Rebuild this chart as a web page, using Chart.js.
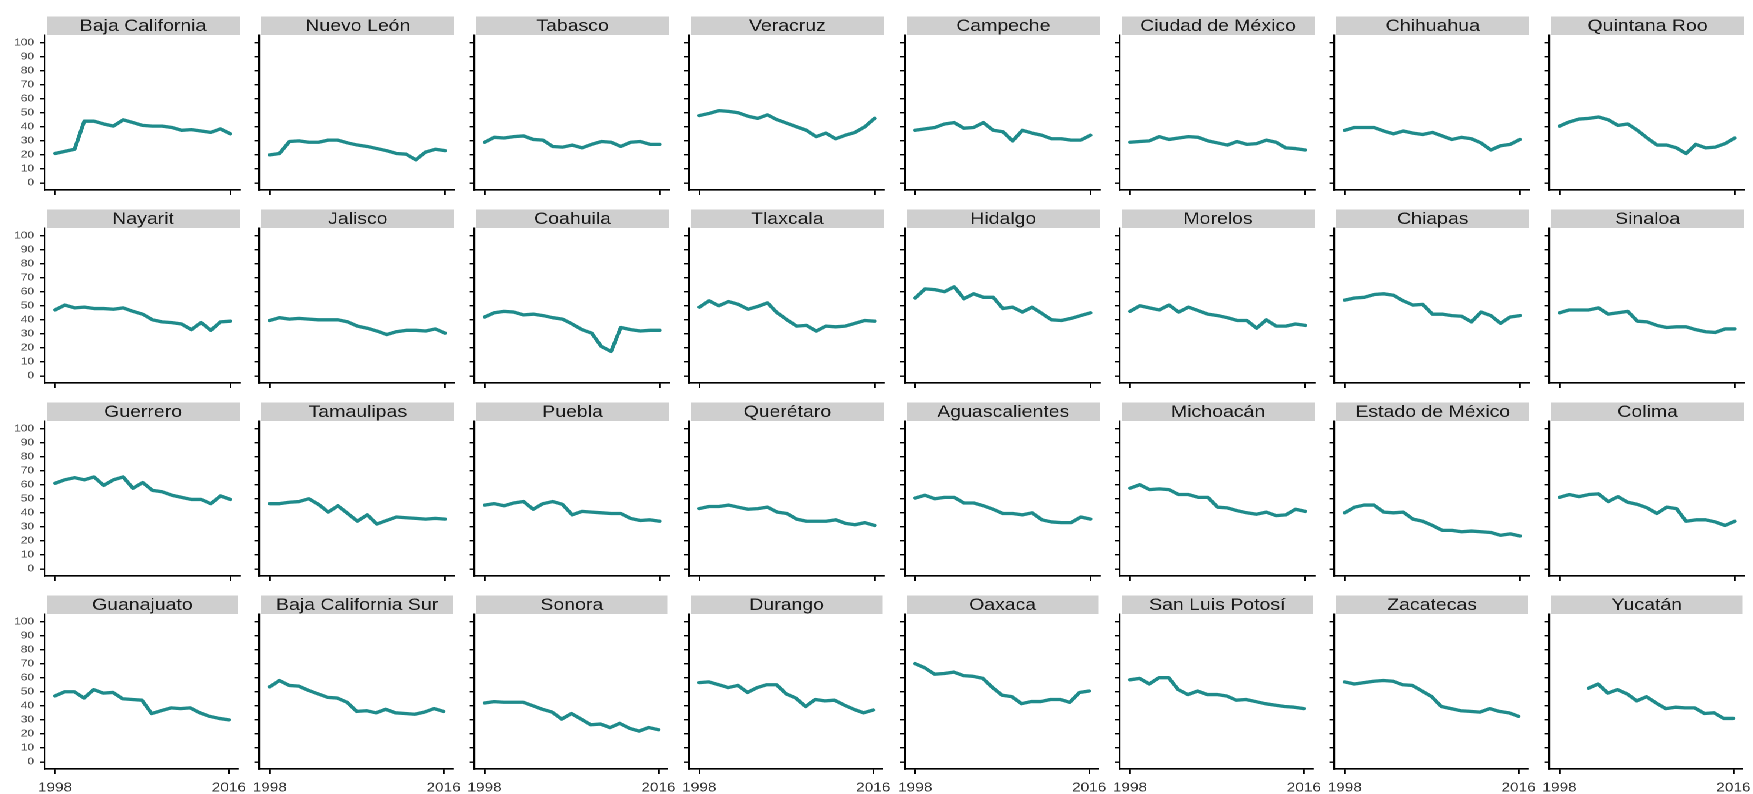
<!DOCTYPE html>
<html>
<head>
<meta charset="utf-8">
<script src="https://cdn.jsdelivr.net/npm/chart.js@4.4.1/dist/chart.umd.min.js"></script>
<style>
    html, body { margin: 0; padding: 0; background: #fff; overflow: hidden; }
    /* the reference is stretched sideways, so the whole grid is too */
    #grid { position: absolute; left: 0; top: 0; width: 1486px; height: 794px;
            transform: scaleX(1.18); transform-origin: 0 0; }
    #grid canvas { position: absolute; }
</style>
</head>
<body>
<div id="grid"></div>
<script>
const years = [1998, 1999, 2000, 2001, 2002, 2003, 2004, 2005, 2006, 2007,
               2008, 2009, 2010, 2011, 2012, 2013, 2014, 2015, 2016];
const xTicks = [1998, 2016];
const yTicks = [0, 10, 20, 30, 40, 50, 60, 70, 80, 90, 100];

const states = [
    'Baja California', 'Nuevo León', 'Tabasco', 'Veracruz', 'Campeche', 'Ciudad de México', 'Chihuahua', 'Quintana Roo',
    'Nayarit', 'Jalisco', 'Coahuila', 'Tlaxcala', 'Hidalgo', 'Morelos', 'Chiapas', 'Sinaloa',
    'Guerrero', 'Tamaulipas', 'Puebla', 'Querétaro', 'Aguascalientes', 'Michoacán', 'Estado de México', 'Colima',
    'Guanajuato', 'Baja California Sur', 'Sonora', 'Durango', 'Oaxaca', 'San Luis Potosí', 'Zacatecas', 'Yucatán'
];

// values, 1998..2016
const bajaCalifornia = [21, 22.5, 24, 44, 44, 42, 40.5, 45, 43, 41, 40.5, 40.5, 39.5, 37.5, 38, 37, 36, 38.5, 35];
const nuevoLeon = [20, 21, 29.5, 30, 29, 29, 30.5, 30.5, 28.5, 27, 26, 24.5, 23, 21, 20.5, 16.5, 22, 24, 23];
const tabasco = [29, 32.5, 32, 33, 33.5, 31, 30.5, 26, 25.5, 27, 25, 27.5, 29.5, 29, 26, 29, 29.5, 27.5, 27.5];
const veracruz = [48, 49.5, 51.5, 51, 50, 47.5, 46, 48.5, 45, 42.5, 40, 37.5, 33, 35.5, 31.5, 34, 36, 40, 46];
const campeche = [37.5, 38.5, 39.5, 42, 43, 39, 39.5, 43, 37.5, 36.5, 30, 37.5, 35.5, 34, 31.5, 31.5, 30.5, 30.5, 34];
const ciudadDeMexico = [29, 29.5, 30, 33, 31, 32, 33, 32.5, 30, 28.5, 27, 29.5, 27.5, 28, 30.5, 29, 25, 24.5, 23.5];
const chihuahua = [37.5, 39.5, 39.5, 39.5, 37, 35, 37, 35.5, 34.5, 36, 33.5, 31, 32.5, 31.5, 28.5, 23.5, 26.5, 27.5, 31];
const quintanaRoo = [40.5, 43.5, 45.5, 46, 47, 45, 41, 42, 37.5, 32, 27, 27, 25, 21, 27.5, 25, 25.5, 28, 32];

const nayarit = [47, 50.5, 48.5, 49, 48, 48, 47.5, 48.5, 46, 44, 40, 38.5, 38, 37, 33, 38, 32.5, 38.5, 39];
const jalisco = [39.5, 41.5, 40.5, 41, 40.5, 40, 40, 40, 38.5, 35.5, 34, 32, 29.5, 31.5, 32.5, 32.5, 32, 33.5, 30.5];
const coahuila = [42, 45, 46, 45.5, 43.5, 44, 43, 41.5, 40.5, 37, 33, 30.5, 21, 17.5, 34.5, 33, 32, 32.5, 32.5];
const tlaxcala = [49, 53.5, 50, 53, 51, 47.5, 49.5, 52, 45, 40, 35.5, 36, 32, 35.5, 35, 35.5, 37.5, 39.5, 39];
const hidalgo = [55.5, 62, 61.5, 60, 63.5, 55, 58.5, 56, 56, 48, 49, 45.5, 49, 44.5, 40, 39.5, 41, 43, 45];
const morelos = [46, 50, 48.5, 47, 50.5, 45.5, 49, 46.5, 44, 43, 41.5, 39.5, 39.5, 34, 40, 35.5, 35.5, 37, 36];
const chiapas = [54, 55.5, 56, 58, 58.5, 57.5, 53.5, 50.5, 51, 44, 44, 43, 42.5, 38.5, 45.5, 43, 37.5, 42, 43];
const sinaloa = [45, 47, 47, 47, 48.5, 44, 45, 46, 39, 38.5, 36, 34.5, 35, 35, 33, 31.5, 31, 33.5, 33.5];

const guerrero = [61, 63.5, 65, 63.5, 65.5, 59.5, 63.5, 65.5, 57.5, 61.5, 56, 55, 52.5, 51, 49.5, 49.5, 46.5, 52, 49.5];
const tamaulipas = [46.5, 46.5, 47.5, 48, 50, 46, 40.5, 45, 39.5, 34, 38.5, 32, 34.5, 37, 36.5, 36, 35.5, 36, 35.5];
const puebla = [45.5, 46.5, 45, 47, 48, 42.5, 46.5, 48, 46, 38.5, 41, 40.5, 40, 39.5, 39.5, 36, 34.5, 35, 34];
const queretaro = [43, 44.5, 44.5, 45.5, 44, 42.5, 43, 44, 40.5, 39.5, 35.5, 34, 34, 34, 35, 32.5, 31.5, 33, 31];
const aguascalientes = [50.5, 52.5, 50, 51, 51, 47, 47, 45, 42.5, 39.5, 39.5, 38.5, 40, 35, 33.5, 33, 33, 37, 35.5];
const michoacan = [57.5, 60, 56.5, 57, 56.5, 53, 53, 51, 51, 44, 43.5, 41.5, 40, 39, 40.5, 38, 38.5, 42.5, 41];
const estadoDeMexico = [40, 44, 45.5, 45.5, 40.5, 40, 40.5, 35.5, 34, 31, 27.5, 27.5, 26.5, 27, 26.5, 26, 24, 25, 23.5];
const colima = [51, 53, 51.5, 53, 53.5, 48, 51.5, 47.5, 46, 43.5, 39.5, 44, 43, 34, 35, 35, 33.5, 31, 34];

const guanajuato = [47, 50, 50, 45.5, 51.5, 49, 49.5, 45, 44.5, 44, 34.5, 36.5, 38.5, 38, 38.5, 35, 32.5, 31, 30];
const bajaCaliforniaSur = [53.5, 58, 54.5, 54, 51, 48.5, 46, 45.5, 42.5, 36, 36.5, 35, 37.5, 35, 34.5, 34, 35.5, 38, 36];
const sonora = [42, 43, 42.5, 42.5, 42.5, 40, 37.5, 35.5, 30.5, 34.5, 30.5, 26.5, 27, 24.5, 27.5, 24, 22, 24.5, 23];
const durango = [56.5, 57, 55, 53, 54.5, 49.5, 53, 55, 55, 48.5, 45.5, 39.5, 44.5, 43.5, 44, 40.5, 37.5, 35, 37];
const oaxaca = [70, 67, 62.5, 63, 64, 61.5, 61, 59.5, 53, 47.5, 46.5, 41.5, 43, 43, 44.5, 44.5, 42.5, 49.5, 50.5];
const sanLuisPotosi = [58.5, 59.5, 55.5, 60, 60, 51.5, 48, 50.5, 48, 48, 47, 44, 44.5, 43, 41.5, 40.5, 39.5, 39, 38];
const zacatecas = [57, 55.5, 56.5, 57.5, 58, 57.5, 55, 54.5, 50.5, 46.5, 39.5, 38, 36.5, 36, 35.5, 38, 36, 35, 32.5];
const yucatan = [null, null, null, 52.5, 55.5, 49, 51.5, 48.5, 43.5, 46.5, 42, 38, 39, 38.5, 38.5, 34.5, 35, 31, 31];

const values = [
    bajaCalifornia, nuevoLeon, tabasco, veracruz, campeche, ciudadDeMexico, chihuahua, quintanaRoo,
    nayarit, jalisco, coahuila, tlaxcala, hidalgo, morelos, chiapas, sinaloa,
    guerrero, tamaulipas, puebla, queretaro, aguascalientes, michoacan, estadoDeMexico, colima,
    guanajuato, bajaCaliforniaSur, sonora, durango, oaxaca, sanLuisPotosi, zacatecas, yucatan
];

// layout (x in screen px, divided by STRETCH because of the css scaleX)
const STRETCH = 1.18;
const COLS = 8, ROWS = 4;
const COL0 = 45, COL_STEP = 214.9;
const ROW0 = 15.5, ROW_STEP = 193.3;
const PLOT_W = 195 / STRETCH, PLOT_H = 154;
const STRIP_H = 18.5;
const Y_AXIS_W = 36, X_AXIS_H = 26, PAD_R = 12;
const LINE_COLOR = '#1f8b8b';
const FONT = '"Liberation Sans", Arial, sans-serif';

// grey strip with the state name above each panel
const stripPlugin = {
    id: 'strip',
    beforeDraw(chart, args, opts) {
        const { ctx, chartArea } = chart;
        ctx.save();
        ctx.fillStyle = '#cfcfcf';
        ctx.fillRect(chartArea.left + 1.5, chartArea.top - STRIP_H - 0.5,
                     chartArea.right - chartArea.left - 1.5, STRIP_H);
        ctx.fillStyle = '#1a1a1a';
        ctx.font = '16.5px ' + FONT;
        ctx.textAlign = 'center';
        ctx.textBaseline = 'middle';
        ctx.fillText(opts.text, (chartArea.left + 1.5 + chartArea.right) / 2, chartArea.top - STRIP_H / 2);
        ctx.restore();
    }
};

const grid = document.getElementById('grid');

states.forEach((name, k) => {
    const row = Math.floor(k / COLS);
    const col = k % COLS;

    const canvas = document.createElement('canvas');
    const w = Math.round(Y_AXIS_W + PLOT_W + PAD_R);
    const h = Math.round(STRIP_H + 1 + PLOT_H + X_AXIS_H);
    canvas.width = w;
    canvas.height = h;
    canvas.style.width = w + 'px';
    canvas.style.height = h + 'px';
    canvas.style.left = ((COL0 + COL_STEP * col) / STRETCH - Y_AXIS_W) + 'px';
    canvas.style.top = (ROW0 + ROW_STEP * row) + 'px';
    grid.appendChild(canvas);

    const vals = values[k];

    new Chart(canvas, {
        type: 'line',
        data: {
            datasets: [{
                data: years.map((yr, i) => ({ x: yr, y: vals[i] })),
                borderColor: LINE_COLOR,
                borderWidth: 3.3,
                borderJoinStyle: 'round',
                borderCapStyle: 'round',
                pointRadius: 0,
                fill: false,
                tension: 0,
                spanGaps: false
            }]
        },
        options: {
            responsive: false,
            animation: false,
            devicePixelRatio: 2,
            layout: { padding: { left: 0, top: STRIP_H + 1, right: PAD_R, bottom: 0 } },
            plugins: {
                legend: { display: false },
                tooltip: { enabled: false },
                strip: { text: name }
            },
            scales: {
                x: {
                    type: 'linear',
                    min: 1996.95,
                    max: 2016.95,
                    afterBuildTicks: s => { s.ticks = xTicks.map(v => ({ value: v })); },
                    afterFit: s => { s.height = X_AXIS_H; },
                    grid: { drawOnChartArea: false, drawTicks: true, tickLength: 5, color: '#000', lineWidth: 1.4 },
                    border: { display: true, color: '#000', width: 1.6 },
                    ticks: {
                        display: row === ROWS - 1,
                        color: '#333',
                        font: { family: FONT, size: 13 },
                        padding: 6,
                        maxRotation: 0,
                        autoSkip: false,
                        callback: v => String(v)
                    }
                },
                y: {
                    min: -5,
                    max: 105,
                    afterBuildTicks: s => { s.ticks = yTicks.map(v => ({ value: v })); },
                    afterFit: s => { s.width = Y_AXIS_W; },
                    grid: { drawOnChartArea: false, drawTicks: true, tickLength: 4.2, color: '#000', lineWidth: 1.4 },
                    border: { display: true, color: '#000', width: 1.6 },
                    ticks: {
                        display: col === 0,
                        color: '#4d4d4d',
                        font: { family: FONT, size: 10 },
                        padding: 5,
                        autoSkip: false,
                        callback: v => String(v)
                    }
                }
            }
        },
        plugins: [stripPlugin]
    });
});
</script>
</body>
</html>
